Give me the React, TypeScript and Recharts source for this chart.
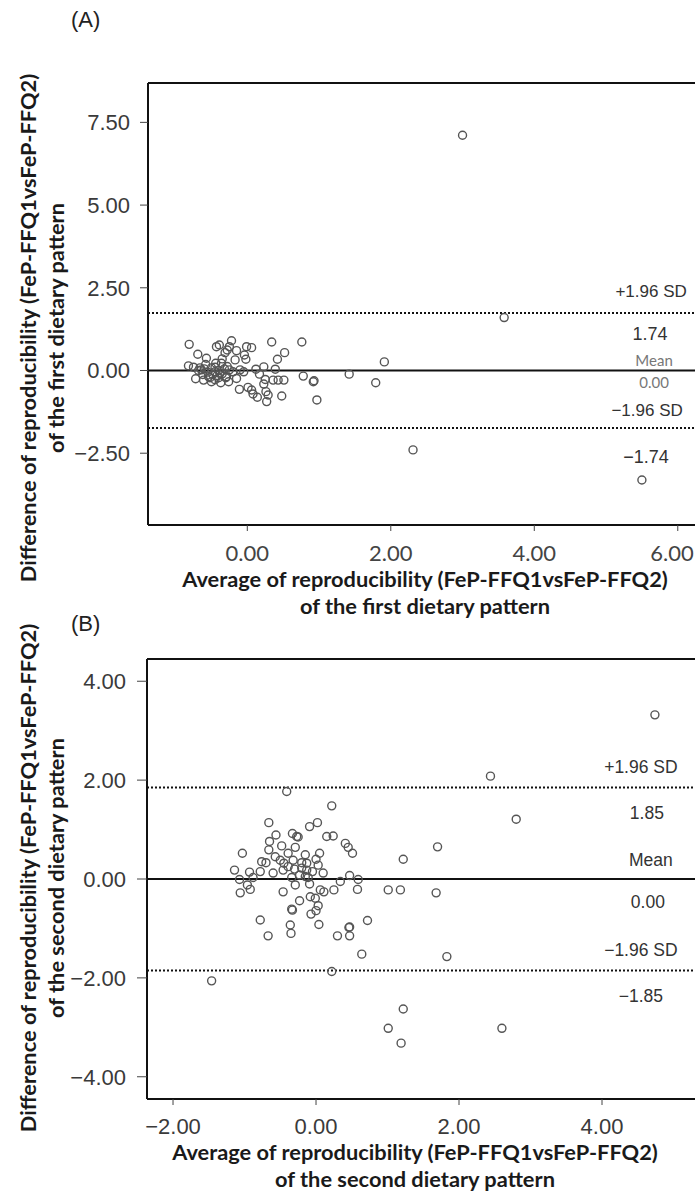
import React from 'react';
import { ScatterChart, Scatter, XAxis, YAxis, ReferenceLine, ReferenceDot } from 'recharts';

// ---------- Panel A data (first dietary pattern) ----------
const aAverage = [
  -0.81, -0.69, -0.82, -0.75, -0.72, -0.61, -0.57, -0.64, -0.54, -0.50,
  -0.44, -0.43, -0.39, -0.45, -0.38, -0.36, -0.37, -0.31, -0.28, -0.22,
  -0.25, -0.29, -0.26, -0.17, -0.15, -0.20, -0.15, -0.11, -0.10, -0.05,
  -0.04, -0.02, -0.01, 0.06, 0.01, 0.06, 0.08, 0.14, 0.12, 0.17,
  0.23, 0.25, 0.26, 0.29, 0.27, 0.23, 0.34, 0.39, 0.36, 0.43,
  0.51, 0.42, 0.52, 0.48, 0.76, 0.78, 0.92, 0.93, 0.97, 1.42,
  1.79, 1.91, 2.31, 3.00, 3.58, 5.50,
  -0.60, -0.55, -0.50, -0.48, -0.45, -0.42, -0.40, -0.35, -0.32, -0.30,
  -0.28, -0.62, -0.68, -0.58, -0.52, -0.35, -0.25, -0.45, -0.66, -0.40,
];
const aDifference = [
  0.79, 0.49, 0.14, 0.10, -0.25, -0.29, 0.37, 0.02, -0.19, -0.34,
  0.22, 0.72, 0.77, -0.04, -0.08, 0.22, -0.37, 0.54, 0.62, 0.90,
  0.72, -0.19, -0.34, 0.32, 0.60, -0.04, -0.24, -0.57, 0.02, -0.04,
  0.47, 0.34, 0.72, 0.69, -0.51, -0.59, -0.71, -0.81, 0.04, -0.11,
  0.11, -0.27, -0.64, -0.74, -0.94, -0.41, 0.86, 0.04, -0.29, -0.29,
  -0.29, 0.34, 0.54, -0.77, 0.86, -0.17, -0.34, -0.31, -0.89, -0.11,
  -0.37, 0.26, -2.40, 7.11, 1.60, -3.31,
  0.05, -0.05, 0.08, -0.12, 0.10, -0.15, 0.00, -0.10, 0.05, -0.22,
  0.12, -0.12, 0.00, 0.18, -0.22, 0.35, 0.02, -0.28, 0.08, -0.22,
];
const aXTicks = [0, 2, 4, 6];
const aYTicks = [-2.5, 0, 2.5, 5, 7.5];
const aMean = 0;
const aUpper = 1.74;
const aLower = -1.74;

// ---------- Panel B data (second dietary pattern) ----------
const bAverage = [
  -0.41, 0.22, -0.66, -0.56, -0.65, -0.66, -1.03, -0.09, 0.02, -0.33,
  -0.27, -0.25, 0.15, 0.24, -0.48, -0.29, -0.39, -0.15, 0.05, 0.41,
  0.45, 0.51, -0.57, -0.76, -0.70, -0.50, -0.32, -0.20, -0.13, 0.03,
  -1.14, -0.93, -0.78, -0.60, -0.46, -0.39, -0.13, -0.11, 0.10, -1.07,
  -0.88, -0.34, -0.23, 0.47, 0.59, 0.34, -0.96, -0.92, -1.06, -0.46,
  -0.29, -0.09, 0.06, 0.11, 0.25, 0.58, 1.01, 1.18, 1.22, 1.70,
  1.68, -0.23, -0.08, -0.01, -0.34, -0.33, 0.03, 0.00, -0.07, -0.78,
  -0.36, 0.04, 0.47, 0.72, -0.67, -0.35, 0.30, 0.47, 0.46, 0.64,
  0.22, -1.46, 1.83, 1.22, 2.60, 1.19, 1.01, 2.44, 2.80, 4.74,
  -0.45, -0.20, -0.05, -0.30, -0.15, 0.00,
];
const bDifference = [
  1.77, 1.48, 1.14, 0.89, 0.76, 0.59, 0.52, 1.06, 1.14, 0.92,
  0.86, 0.85, 0.86, 0.87, 0.67, 0.64, 0.52, 0.49, 0.52, 0.72,
  0.64, 0.52, 0.45, 0.35, 0.33, 0.38, 0.38, 0.33, 0.32, 0.28,
  0.18, 0.14, 0.15, 0.12, 0.18, 0.25, 0.18, 0.03, 0.12, -0.01,
  0.03, 0.03, 0.08, 0.07, -0.01, -0.05, -0.12, -0.21, -0.28, -0.26,
  -0.12, -0.10, -0.22, -0.26, -0.22, -0.21, -0.22, -0.22, 0.40, 0.65,
  -0.28, -0.44, -0.36, -0.39, -0.61, -0.63, -0.54, -0.64, -0.71, -0.83,
  -0.93, -0.92, -0.97, -0.84, -1.15, -1.10, -1.15, -1.15, -0.98, -1.52,
  -1.87, -2.06, -1.57, -2.63, -3.02, -3.32, -3.02, 2.08, 1.21, 3.32,
  0.32, 0.22, 0.15, 0.20, 0.05, 0.40,
];
const bXTicks = [-2, 0, 2, 4];
const bYTicks = [-4, -2, 0, 2, 4];
const bMean = 0;
const bUpper = 1.85;
const bLower = -1.85;

const aPoints = aAverage.map((x, i) => ({ x, y: aDifference[i] }));
const bPoints = bAverage.map((x, i) => ({ x, y: bDifference[i] }));

const NUM_FONT = "'Liberation Sans', Arial, sans-serif";
const TITLE_FONT = "Lato, 'Open Sans', sans-serif";

const fmt = (v: number) => v.toFixed(2).replace('-', '\u2212');
const signed = (v: number) => v.toFixed(2).replace('-', '\u2212');

const Ring = (props: any) => (
  <circle cx={props.cx} cy={props.cy} r={4} fill="none" stroke="#555" strokeWidth={1.4} />
);

// A's x tick labels: keep the last label inside the picture's right edge
const ATick = (props: any) => {
  const { x, y, payload } = props;
  const tx = Math.min(x, 672);
  return (
    <text x={tx} y={y} dy="0.71em" textAnchor="middle" fontSize={22} fill="#444" fontFamily={TITLE_FONT}>
      {fmt(payload.value)}
    </text>
  );
};

const textLabel = (txt: string, dy: number, fs: number, fill: string, family: string, dx = 0) => ({
  content: (p: any) => {
    const vb = p.viewBox || {};
    const cx = (vb.x || 0) + (vb.width || 0) / 2 + dx;
    const cy = (vb.y || 0) + (vb.height || 0) / 2 + dy + fs * 0.36;
    return (
      <text x={cx} y={cy} textAnchor="middle" fontSize={fs} fill={fill} fontFamily={family}>
        {txt}
      </text>
    );
  },
});

const refLine = (y: number, dashed: boolean) => (
  <ReferenceLine
    key={'l' + y}
    y={y}
    stroke="#111"
    strokeWidth={2}
    strokeDasharray={dashed ? '2 2' : undefined}
  />
);

function PanelA() {
  const labelX = 5.6;
  const dark = '#333';
  const grey = '#777';
  return (
    <div style={{ position: 'absolute', left: 0, top: 0 }}>
      <ScatterChart width={720} height={575} margin={{ top: 83, right: 20.7, left: 88, bottom: 0 }}>
        <XAxis
          type="number"
          dataKey="x"
          domain={[-1.384, 6.3]}
          allowDataOverflow
          ticks={aXTicks}
          tickFormatter={fmt}
          height={50}
          tickSize={6}
          tickMargin={14}
          axisLine={{ stroke: '#111', strokeWidth: 2 }}
          tickLine={{ stroke: '#444' }}
          tick={ATick}
        />
        <YAxis
          type="number"
          dataKey="y"
          domain={[-4.67, 8.69]}
          allowDataOverflow
          ticks={aYTicks}
          tickFormatter={fmt}
          width={60}
          tickSize={8}
          tickMargin={10}
          axisLine={{ stroke: '#111', strokeWidth: 2 }}
          tickLine={{ stroke: '#444' }}
          tick={{ fontSize: 22, fill: '#3a3a3a', fontFamily: NUM_FONT }}
        />
        <ReferenceLine y={8.69} stroke="#111" strokeWidth={2} />
        {refLine(aUpper, true)}
        {refLine(aMean, false)}
        {refLine(aLower, true)}
        <Scatter data={aPoints} shape={Ring} isAnimationActive={false} />
        <ReferenceDot x={labelX} y={aUpper} r={1} fill="none" stroke="none"
          label={textLabel('+1.96 SD', -22, 17, dark, NUM_FONT, 2)} />
        <ReferenceDot x={labelX} y={aUpper} r={1} fill="none" stroke="none"
          label={textLabel(signed(aUpper), 21, 18, dark, NUM_FONT, 1)} />
        <ReferenceDot x={labelX} y={aMean} r={1} fill="none" stroke="none"
          label={textLabel('Mean', -10, 15, grey, TITLE_FONT, 5)} />
        <ReferenceDot x={labelX} y={aMean} r={1} fill="none" stroke="none"
          label={textLabel(signed(aMean), 12.5, 15, grey, TITLE_FONT, 5)} />
        <ReferenceDot x={labelX} y={aLower} r={1} fill="none" stroke="none"
          label={textLabel('\u22121.96 SD', -18, 17, dark, NUM_FONT, -2)} />
        <ReferenceDot x={labelX} y={aLower} r={1} fill="none" stroke="none"
          label={textLabel(signed(aLower), 28, 18, dark, NUM_FONT, -3)} />
      </ScatterChart>
    </div>
  );
}

function PanelB() {
  const labelX = 4.6;
  const dark = '#333';
  return (
    <div style={{ position: 'absolute', left: 0, top: 600 }}>
      <ScatterChart width={720} height={549} margin={{ top: 59, right: 17.9, left: 87, bottom: 0 }}>
        <XAxis
          type="number"
          dataKey="x"
          domain={[-2.364, 5.4]}
          allowDataOverflow
          ticks={bXTicks}
          tickFormatter={fmt}
          height={50}
          tickSize={6}
          tickMargin={13}
          axisLine={{ stroke: '#111', strokeWidth: 2 }}
          tickLine={{ stroke: '#444' }}
          tick={{ fontSize: 22, fill: '#3a3a3a', fontFamily: NUM_FONT }}
        />
        <YAxis
          type="number"
          dataKey="y"
          domain={[-4.45, 4.45]}
          allowDataOverflow
          ticks={bYTicks}
          tickFormatter={fmt}
          width={60}
          tickSize={10}
          tickMargin={11}
          axisLine={{ stroke: '#111', strokeWidth: 2 }}
          tickLine={{ stroke: '#444' }}
          tick={{ fontSize: 22, fill: '#3a3a3a', fontFamily: NUM_FONT }}
        />
        <ReferenceLine y={4.45} stroke="#111" strokeWidth={2} />
        {refLine(bUpper, true)}
        {refLine(bMean, false)}
        {refLine(bLower, true)}
        <Scatter data={bPoints} shape={Ring} isAnimationActive={false} />
        <ReferenceDot x={labelX} y={bUpper} r={1} fill="none" stroke="none"
          label={textLabel('+1.96 SD', -21, 17.5, dark, NUM_FONT, -4)} />
        <ReferenceDot x={labelX} y={bUpper} r={1} fill="none" stroke="none"
          label={textLabel(signed(bUpper), 25, 17.5, dark, NUM_FONT, 2)} />
        <ReferenceDot x={labelX} y={bMean} r={1} fill="none" stroke="none"
          label={textLabel('Mean', -19, 17.5, dark, NUM_FONT, 6)} />
        <ReferenceDot x={labelX} y={bMean} r={1} fill="none" stroke="none"
          label={textLabel(signed(bMean), 23, 17.5, dark, NUM_FONT, 3)} />
        <ReferenceDot x={labelX} y={bLower} r={1} fill="none" stroke="none"
          label={textLabel('\u22121.96 SD', -21, 17.5, dark, NUM_FONT, -4)} />
        <ReferenceDot x={labelX} y={bLower} r={1} fill="none" stroke="none"
          label={textLabel(signed(bLower), 25, 17.5, dark, NUM_FONT, -4)} />
      </ScatterChart>
    </div>
  );
}

const titleStyle: React.CSSProperties = {
  position: 'absolute',
  fontFamily: TITLE_FONT,
  fontWeight: 700,
  fontSize: 21.8,
  lineHeight: '26.5px',
  color: '#1a1a1a',
  textAlign: 'center',
  whiteSpace: 'nowrap',
};

function YTitle({ cx, cy, lines }: { cx: number; cy: number; lines: string[] }) {
  const W = 640;
  const H = 56;
  return (
    <div
      style={{
        ...titleStyle,
        lineHeight: '28px',
        left: cx - W / 2,
        top: cy - H / 2,
        width: W,
        height: H,
        transform: 'rotate(-90deg)',
        transformOrigin: 'center center',
      }}
    >
      {lines.map((l) => (
        <div key={l}>{l}</div>
      ))}
    </div>
  );
}

export default function App() {
  return (
    <div
      style={{
        position: 'absolute',
        left: 0,
        top: 0,
        width: 695,
        height: 1197,
        overflow: 'hidden',
        background: '#fff',
      }}
    >
      <PanelA />
      <PanelB />
      <div style={{ position: 'absolute', left: 71, top: 7, fontFamily: NUM_FONT, fontSize: 22, color: '#222' }}>(A)</div>
      <div style={{ position: 'absolute', left: 71, top: 611, fontFamily: NUM_FONT, fontSize: 22, color: '#222' }}>(B)</div>
      <YTitle
        cx={42}
        cy={328}
        lines={['Difference of reproducibility (FeP-FFQ1vsFeP-FFQ2)', 'of the first dietary pattern']}
      />
      <YTitle
        cx={42}
        cy={878}
        lines={['Difference of reproducibility (FeP-FFQ1vsFeP-FFQ2)', 'of the second dietary pattern']}
      />
      <div style={{ ...titleStyle, left: 125, width: 600, top: 566 }}>
        <div>Average of reproducibility (FeP-FFQ1vsFeP-FFQ2)</div>
        <div>of the first dietary pattern</div>
      </div>
      <div style={{ ...titleStyle, left: 115, width: 600, top: 1139 }}>
        <div>Average of reproducibility (FeP-FFQ1vsFeP-FFQ2)</div>
        <div>of the second dietary pattern</div>
      </div>
    </div>
  );
}
